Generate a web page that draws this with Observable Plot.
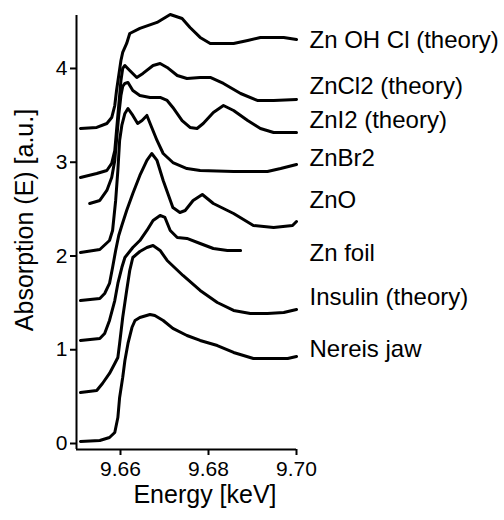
<!DOCTYPE html>
<html><head><meta charset="utf-8">
<script src="https://cdn.jsdelivr.net/npm/d3@7"></script>
<script src="https://cdn.jsdelivr.net/npm/@observablehq/plot@0.6"></script>
<style>body{margin:0;background:#fff;} svg{display:block}</style>
</head><body><div id="chart"></div>
<script>
const seriesNames = ["Zn OH Cl (theory)","ZnCl2 (theory)","ZnI2 (theory)","ZnBr2","ZnO","Zn foil","Insulin (theory)","Nereis jaw"];
const labelY = [4.299, 3.808, 3.445, 3.040, 2.592, 2.027, 1.557, 1.003];
const xTicks = [9.66, 9.68, 9.70];
const yTicks = [0, 1, 2, 3, 4];

const znohclE = [9.6509,9.6546,9.6569,9.6580,9.6587,9.6591,9.6596,9.6601,9.6605,9.6614,9.6621,9.6644,9.6683,9.6713,9.6740,9.6758,9.6781,9.6804,9.6857,9.6889,9.6918,9.6971,9.7000];
const znohclA = [3.360,3.371,3.413,3.477,3.605,3.765,3.925,4.085,4.171,4.267,4.373,4.427,4.491,4.576,4.533,4.437,4.331,4.267,4.267,4.299,4.331,4.331,4.309];

const zncl2E = [9.6509,9.6546,9.6569,9.6580,9.6587,9.6591,9.6596,9.6601,9.6605,9.6610,9.6621,9.6637,9.6651,9.6674,9.6690,9.6706,9.6729,9.6751,9.6781,9.6804,9.6834,9.6873,9.6911,9.6948,9.7000];
const zncl2A = [2.837,2.880,2.912,2.987,3.125,3.339,3.605,3.872,4.000,4.032,3.979,3.904,3.947,4.032,4.053,4.011,3.925,3.893,3.904,3.904,3.840,3.733,3.659,3.659,3.669];

const zni2E = [9.6530,9.6553,9.6569,9.6580,9.6587,9.6591,9.6596,9.6601,9.6605,9.6610,9.6617,9.6628,9.6644,9.6667,9.6690,9.6706,9.6719,9.6740,9.6758,9.6774,9.6788,9.6811,9.6834,9.6857,9.6889,9.6918,9.6948,9.7000];
const zni2A = [2.560,2.592,2.699,2.837,3.019,3.232,3.499,3.712,3.808,3.840,3.851,3.765,3.712,3.691,3.691,3.659,3.584,3.445,3.371,3.360,3.413,3.531,3.605,3.552,3.445,3.360,3.317,3.317];

const znbr2E = [9.6509,9.6553,9.6575,9.6582,9.6589,9.6594,9.6598,9.6603,9.6610,9.6617,9.6628,9.6639,9.6649,9.6660,9.6671,9.6683,9.6697,9.6719,9.6751,9.6781,9.6857,9.6934,9.6964,9.7000];
const znbr2A = [2.037,2.069,2.165,2.272,2.592,2.912,3.232,3.392,3.520,3.573,3.499,3.413,3.445,3.499,3.371,3.232,3.093,2.997,2.933,2.912,2.901,2.901,2.933,2.976];

const znoE = [9.6509,9.6553,9.6564,9.6575,9.6582,9.6589,9.6596,9.6603,9.6614,9.6628,9.6644,9.6660,9.6671,9.6683,9.6697,9.6719,9.6735,9.6747,9.6765,9.6786,9.6811,9.6857,9.6902,9.6948,9.6991,9.7000];
const znoA = [1.525,1.547,1.600,1.707,1.877,2.059,2.219,2.325,2.485,2.667,2.859,3.019,3.093,3.019,2.805,2.517,2.464,2.485,2.592,2.656,2.560,2.453,2.325,2.304,2.325,2.368];

const znfoilE = [9.6509,9.6553,9.6564,9.6575,9.6587,9.6594,9.6603,9.6610,9.6628,9.6644,9.6660,9.6674,9.6690,9.6701,9.6713,9.6729,9.6751,9.6781,9.6811,9.6843,9.6873];
const znfoilA = [1.099,1.120,1.173,1.312,1.525,1.707,1.877,1.984,2.091,2.165,2.272,2.379,2.432,2.411,2.272,2.197,2.187,2.133,2.080,2.059,2.059];

const insulinE = [9.6509,9.6546,9.6559,9.6575,9.6587,9.6594,9.6598,9.6605,9.6614,9.6621,9.6628,9.6644,9.6660,9.6674,9.6690,9.6706,9.6742,9.6781,9.6820,9.6857,9.6895,9.6934,9.6971,9.7000];
const insulinA = [0.544,0.565,0.640,0.747,0.853,0.917,1.067,1.344,1.632,1.845,1.984,2.048,2.091,2.112,2.059,1.952,1.792,1.632,1.504,1.419,1.387,1.387,1.397,1.429];

const nereisE = [9.6509,9.6553,9.6575,9.6587,9.6594,9.6598,9.6605,9.6610,9.6617,9.6626,9.6633,9.6644,9.6667,9.6678,9.6697,9.6719,9.6751,9.6781,9.6820,9.6857,9.6902,9.6934,9.6980,9.7000];
const nereisA = [0.021,0.032,0.064,0.117,0.277,0.491,0.704,0.885,1.067,1.237,1.312,1.344,1.376,1.365,1.312,1.227,1.152,1.099,1.045,0.971,0.907,0.907,0.907,0.928];

const curves = [
  [seriesNames[0], znohclE, znohclA],
  [seriesNames[1], zncl2E, zncl2A],
  [seriesNames[2], zni2E, zni2A],
  [seriesNames[3], znbr2E, znbr2A],
  [seriesNames[4], znoE, znoA],
  [seriesNames[5], znfoilE, znfoilA],
  [seriesNames[6], insulinE, insulinA],
  [seriesNames[7], nereisE, nereisA]
];
const rows = curves.flatMap(([name, es, as]) => es.map((e, i) => ({series: name, energy: e, absorption: as[i]})));
const labels = seriesNames.map((n, i) => ({name: n, y: labelY[i]}));

const font = "'Liberation Sans', Arial, Helvetica, sans-serif";
const chart = Plot.plot({
  width: 504, height: 520,
  marginLeft: 76, marginRight: 208, marginTop: 15, marginBottom: 71,
  style: {fontFamily: font, background: "#fff", color: "#000", overflow: "visible"},
  x: {domain: [9.65, 9.70]},
  y: {domain: [-0.064, 4.565]},
  marks: [
    Plot.ruleX([9.65], {stroke: "#000", strokeWidth: 2}),
    Plot.ruleY([-0.064], {stroke: "#000", strokeWidth: 2}),
    Plot.axisX({ticks: xTicks, tickFormat: d => d.toFixed(2), tickSize: 6, tickPadding: 6, fontSize: 21, label: null, strokeWidth: 2}),
    Plot.axisY({ticks: yTicks, tickFormat: d => String(d), tickSize: 6, tickPadding: 3, fontSize: 21, label: null, strokeWidth: 2}),
    Plot.line(rows, {x: "energy", y: "absorption", z: "series", stroke: "#000", strokeWidth: 3, strokeLinejoin: "round", strokeLinecap: "round"}),
    Plot.text(labels, {frameAnchor: "right", y: "y", text: "name", textAnchor: "start", dx: 13, fontSize: 24, fill: "#000"})
  ]
});
const svg = d3.select(chart);
svg.append("text").attr("x", 205).attr("y", 503).attr("text-anchor", "middle")
  .attr("font-size", 25).attr("font-family", font).attr("fill", "#000").text("Energy [keV]");
svg.append("text").attr("transform", "translate(33,220) rotate(-90)").attr("text-anchor", "middle")
  .attr("font-size", 25).attr("font-family", font).attr("fill", "#000").text("Absorption (E) [a.u.]");
document.getElementById("chart").appendChild(chart);
</script>
</body></html>
